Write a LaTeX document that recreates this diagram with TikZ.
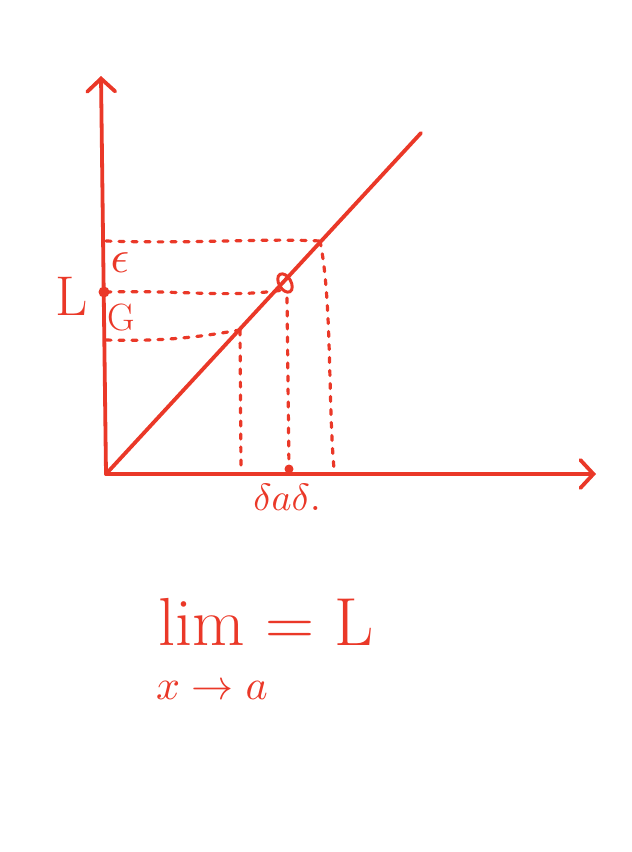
\documentclass[tikz,border=0pt]{standalone}
\usetikzlibrary{arrows.meta}
\definecolor{ink}{RGB}{234,56,40}
\begin{document}
\begin{tikzpicture}[x=1pt,y=-1pt,
  axis/.style={draw=ink,line width=3.8pt,line cap=round,line join=round},
  guide/.style={draw=ink,line width=3.2pt,line cap=round,dash pattern=on 5pt off 8pt},
  lab/.style={text=ink,inner sep=0pt},
  tip/.style={-{Straight Barb[length=13pt,width=28pt,line cap=round]}}]
\useasboundingbox (0,0) rectangle (632,852);
% axes
\coordinate (O) at (106,474);
\coordinate (ytop) at (101,76);
\coordinate (xend) at (596,474);
\coordinate (dend) at (421,133);
\draw[axis,tip] (O) -- (ytop);
\draw[axis,tip] (O) -- (xend);
\draw[axis] (O) -- (dend);
% levels on y axis
\coordinate (yE) at (106,241);
\coordinate (yL) at (106,292);
\coordinate (yG) at (106,340);
% points on the line
\coordinate (pE) at (320,241);
\coordinate (pL) at (283,290);
\coordinate (pG) at (240,330);
% feet on x axis
\coordinate (xE) at (334,469);
\coordinate (xL) at (289,469);
\coordinate (xG) at (241,469);
% dotted guides
\draw[guide] (yE) .. controls (200,244) and (260,238) .. (pE);
\draw[guide] (yL) .. controls (180,290) and (230,298) .. (pL);
\draw[guide] (yG) .. controls (170,342) and (210,335) .. (pG);
\draw[guide] (pE) .. controls (332,300) and (328,400) .. (xE);
\draw[guide] (287,298) -- (xL);
\draw[guide] (pG) -- (xG);
% marks
\fill[ink] (104,292) circle (5.5);
\fill[ink] (xL) circle (4.5);
\draw[ink,line width=3pt,rotate around={30:(285,283)}] (285,283) ellipse (6 and 10);
% labels
\node[lab,font=\fontsize{56}{60}\selectfont] (L) at (72,296) {L};
\node[lab,scale=4.6] (eps) at (120,263) {$\epsilon$};
\node[lab,font=\fontsize{38}{42}\selectfont] (G) at (121,318) {G};
\node[lab,scale=3.8] (dad) at (287,497) {$\delta a\delta$.};
\node[lab,font=\fontsize{68}{72}\selectfont] (lim) at (266,622) {lim = L};
\node[lab,scale=4.2] (sub) at (212,690) {$x\to a$};
\end{tikzpicture}
\end{document}
